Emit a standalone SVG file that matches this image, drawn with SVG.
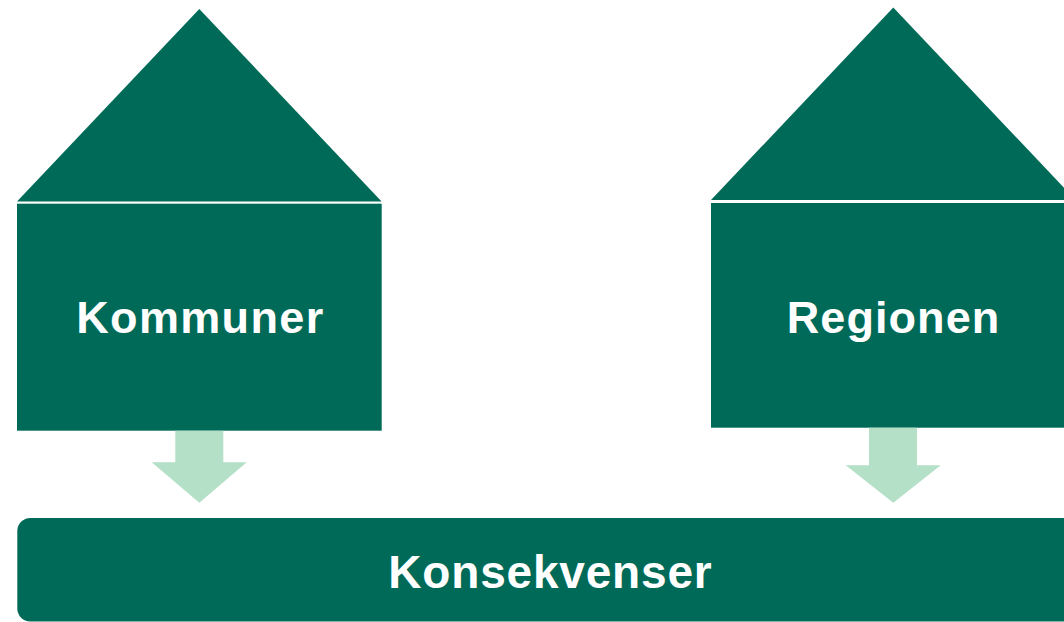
<svg xmlns="http://www.w3.org/2000/svg" width="1064" height="622" viewBox="0 0 1064 622">
  <style>
    .dark { fill: #006A58; }
    .arrow { fill: #B3E0C6; }
    .label { fill: #FFFFFF; font-family: "Liberation Sans", Arial, sans-serif; font-weight: bold; text-anchor: middle; }
  </style>
  <rect width="1064" height="622" fill="#FFFFFF"/>
  <g id="kommuner">
    <polygon class="dark" points="17,201.5 199.3,9 381.6,201.5"/>
    <rect class="dark" x="17" y="203.7" width="364.7" height="227"/>
    <text class="label" x="199.7" y="333.3" font-size="45" textLength="247" lengthAdjust="spacing">Kommuner</text>
  </g>
  <g id="regionen">
    <polygon class="dark" points="711,200 893.3,7.5 1075.6,200"/>
    <rect class="dark" x="711" y="203" width="365" height="224.7"/>
    <text class="label" x="893" y="333" font-size="45" textLength="212.6" lengthAdjust="spacing">Regionen</text>
  </g>
  <g id="konsekvenser">
    <rect class="dark" x="17.3" y="518" width="1100" height="103.5" rx="13" ry="13"/>
    <text class="label" x="550" y="587.7" font-size="46" textLength="323.4" lengthAdjust="spacing">Konsekvenser</text>
  </g>
  <g id="connectors">
    <polygon class="arrow" points="175.3,430.7 223.3,430.7 223.3,462.3 246.7,462.3 199.3,502.7 151.7,462.3 175.3,462.3"/>
    <polygon class="arrow" points="869,427.7 917,427.7 917,465.3 940.7,465.3 893.3,502.7 845.7,465.3 869,465.3"/>
  </g>
</svg>
